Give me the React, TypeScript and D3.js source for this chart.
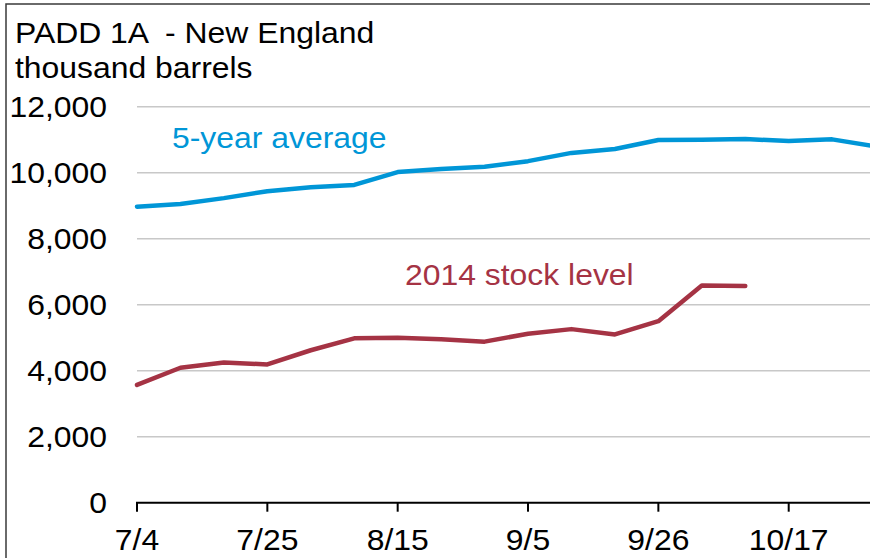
import { useRef, useEffect } from 'react';
import * as d3 from 'd3';

const WIDTH = 870;
const HEIGHT = 558;
const SX = 1.1; // the source picture is stretched a little horizontally

const weeks = [
  '2014-07-04', '2014-07-11', '2014-07-18', '2014-07-25', '2014-08-01', '2014-08-08',
  '2014-08-15', '2014-08-22', '2014-08-29', '2014-09-05', '2014-09-12', '2014-09-19',
  '2014-09-26', '2014-10-03', '2014-10-10', '2014-10-17', '2014-10-24', '2014-10-31',
];
const fiveYearAvg = [
  8970, 9050, 9230, 9440, 9560, 9630, 10020, 10110, 10180, 10350, 10600, 10720,
  10990, 11000, 11020, 10960, 11010, 10800,
];
const stocks2014 = [
  3570, 4090, 4250, 4190, 4620, 4980, 5000, 4950, 4880, 5120, 5260, 5100, 5500, 6580, 6570,
];
const xTicks = ['2014-07-04', '2014-07-25', '2014-08-15', '2014-09-05', '2014-09-26', '2014-10-17'];
const yTicks = [0, 2000, 4000, 6000, 8000, 10000, 12000];

const BLUE = '#0096d7';
const RED = '#a53344';

export default function App() {
  const svgRef = useRef(null);

  useEffect(() => {
    const svg = d3.select(svgRef.current);
    svg.selectAll('*').remove();

    const parse = d3.utcParse('%Y-%m-%d');
    const dates = weeks.map(parse);

    const x = d3.scaleUtc()
      .domain([dates[0], dates[dates.length - 1]])
      .range([137, 875.6]);
    const y = d3.scaleLinear().domain([0, 12000]).range([502.7, 106.7]);

    const font = 'Arial, "Liberation Sans", sans-serif';
    const fs = 29;

    const label = (tx, ty, txt, color, anchor = 'start') =>
      svg.append('text')
        .attr('transform', `translate(${tx},${ty}) scale(${SX},1)`)
        .attr('text-anchor', anchor)
        .attr('font-family', font)
        .attr('font-size', fs)
        .attr('fill', color)
        .style('white-space', 'pre')
        .text(txt);

    // frame
    svg.append('rect')
      .attr('x', 6).attr('y', 4)
      .attr('width', WIDTH + 20).attr('height', HEIGHT + 20)
      .attr('fill', 'none').attr('stroke', '#3a3a3a').attr('stroke-width', 1.5);

    // gridlines
    svg.append('g').selectAll('line').data(yTicks.filter(d => d > 0)).enter()
      .append('line')
      .attr('x1', 137).attr('x2', WIDTH)
      .attr('y1', d => y(d)).attr('y2', d => y(d))
      .attr('stroke', '#c8c8c8').attr('stroke-width', 1.5);

    // y labels
    yTicks.forEach(v => label(107, y(v) + 10.5, d3.format(',')(v), '#000', 'end'));

    // x axis
    svg.append('line')
      .attr('x1', 136).attr('x2', WIDTH)
      .attr('y1', y(0)).attr('y2', y(0))
      .attr('stroke', '#000').attr('stroke-width', 2);
    xTicks.map(parse).forEach(d => {
      svg.append('line')
        .attr('x1', x(d)).attr('x2', x(d))
        .attr('y1', y(0)).attr('y2', y(0) + 9)
        .attr('stroke', '#000').attr('stroke-width', 2);
      label(x(d), 550, d3.utcFormat('%-m/%-d')(d), '#000', 'middle');
    });

    const line = d3.line()
      .x((d, i) => x(dates[i]))
      .y(d => y(d));

    svg.append('path').datum(fiveYearAvg)
      .attr('d', line)
      .attr('fill', 'none').attr('stroke', BLUE)
      .attr('stroke-width', 4.5).attr('stroke-linecap', 'round').attr('stroke-linejoin', 'round');

    svg.append('path').datum(stocks2014)
      .attr('d', line)
      .attr('fill', 'none').attr('stroke', RED)
      .attr('stroke-width', 4.5).attr('stroke-linecap', 'round').attr('stroke-linejoin', 'round');

    // titles and series labels
    label(15, 43, 'PADD 1A  - New England', '#000');
    label(15, 78, 'thousand barrels', '#000');
    label(172, 148, '5-year average', BLUE);
    label(405, 285, '2014 stock level', RED);
  }, []);

  return (
    <svg
      ref={svgRef}
      width={WIDTH}
      height={HEIGHT}
      style={{ position: 'absolute', left: 0, top: 0, background: '#fff' }}
    />
  );
}
